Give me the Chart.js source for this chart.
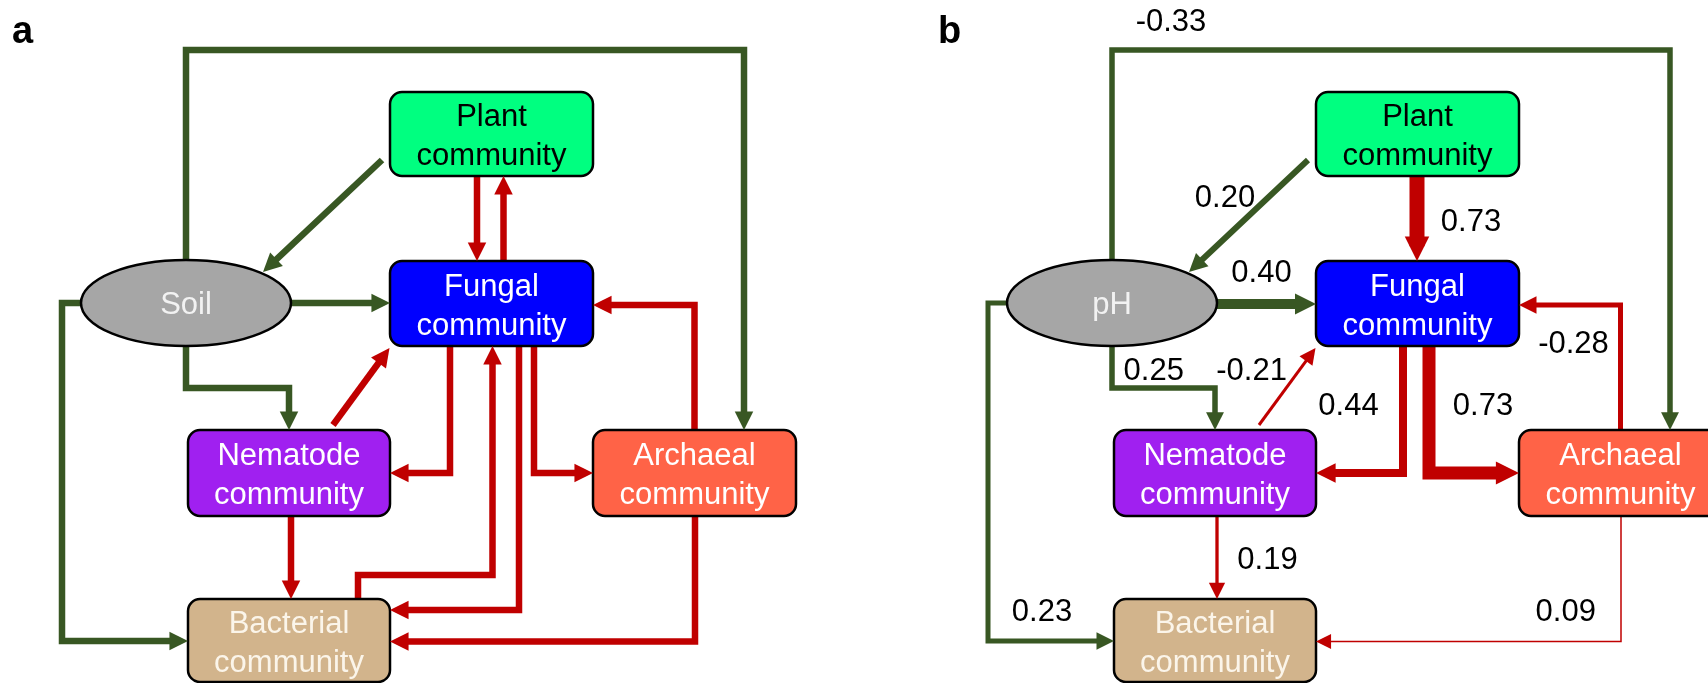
<!DOCTYPE html>
<html>
<head>
<meta charset="utf-8">
<script src="https://cdn.jsdelivr.net/npm/chart.js@4.4.1/dist/chart.umd.min.js"></script>
<style>
  html, body { margin: 0; padding: 0; background: #ffffff; }
  #wrap { width: 1708px; height: 683px; position: relative; }
</style>
</head>
<body>
<div id="wrap"><canvas id="sem"></canvas></div>
<script>
// ---- Model content ----------------------------------------------------
const nodeKeys = ['soil', 'plant', 'fungal', 'nematode', 'archaeal', 'bacterial'];
const nodeLabelsA = [['Soil'], ['Plant', 'community'], ['Fungal', 'community'],
                     ['Nematode', 'community'], ['Archaeal', 'community'], ['Bacterial', 'community']];
const nodeLabelsB = [['pH'], ['Plant', 'community'], ['Fungal', 'community'],
                     ['Nematode', 'community'], ['Archaeal', 'community'], ['Bacterial', 'community']];

// hypothesised paths (panel a)
const pathsA = [
  ['soil', 'archaeal'], ['plant', 'soil'], ['soil', 'fungal'], ['soil', 'nematode'],
  ['soil', 'bacterial'], ['plant', 'fungal'], ['fungal', 'plant'], ['nematode', 'fungal'],
  ['fungal', 'nematode'], ['fungal', 'archaeal'], ['archaeal', 'fungal'], ['bacterial', 'fungal'],
  ['fungal', 'bacterial'], ['archaeal', 'bacterial'], ['nematode', 'bacterial']
];
// retained paths and standardised coefficients (panel b)
const pathsB = [
  ['soil', 'archaeal'], ['plant', 'soil'], ['soil', 'fungal'], ['soil', 'nematode'],
  ['soil', 'bacterial'], ['plant', 'fungal'], ['nematode', 'fungal'], ['fungal', 'nematode'],
  ['fungal', 'archaeal'], ['archaeal', 'fungal'], ['archaeal', 'bacterial'], ['nematode', 'bacterial']
];
const coefficientsB = [-0.33, 0.20, 0.40, 0.25, 0.23, 0.73, -0.21, 0.44, 0.73, -0.28, 0.09, 0.19];

// ---- Layout (diagram units, one panel) ---------------------------------
const panelOffsets = [0, 926];
const nodeGeom = {
  soil:      { cx: 186,   cy: 303,   w: 210, h: 86, shape: 'ellipse', fill: '#A6A6A6', text: '#F2F2F2' },
  plant:     { cx: 491.5, cy: 134,   w: 203, h: 84, fill: '#00FF80', text: '#000000' },
  fungal:    { cx: 491.5, cy: 303.5, w: 203, h: 85, fill: '#0000FF', text: '#FFFFFF' },
  nematode:  { cx: 289,   cy: 473,   w: 202, h: 86, fill: '#A020F0', text: '#FFFFFF' },
  archaeal:  { cx: 694.5, cy: 473,   w: 203, h: 86, fill: '#FF6347', text: '#FFFFFF' },
  bacterial: { cx: 289,   cy: 640.5, w: 202, h: 83, fill: '#D2B48C', text: '#FBF5EA' }
};

const routesA = {
  'soil>archaeal':      [[186, 260], [186, 50], [744, 50], [744, 430]],
  'plant>soil':         [[382, 160], [263, 272]],
  'soil>fungal':        [[291, 303], [390, 303]],
  'soil>nematode':      [[186, 346], [186, 388], [289, 388], [289, 430]],
  'soil>bacterial':     [[81, 303], [62, 303], [62, 641], [188, 641]],
  'plant>fungal':       [[477, 176], [477, 261]],
  'fungal>plant':       [[503.5, 261], [503.5, 176]],
  'nematode>fungal':    [[333, 425], [389.5, 348]],
  'fungal>nematode':    [[450, 346], [450, 473], [390, 473]],
  'fungal>archaeal':    [[534, 346], [534, 473], [593, 473]],
  'archaeal>fungal':    [[694.5, 430], [694.5, 305], [593, 305]],
  'bacterial>fungal':   [[358, 599], [358, 575], [492.5, 575], [492.5, 346]],
  'fungal>bacterial':   [[519, 346], [519, 610], [390, 610]],
  'archaeal>bacterial': [[695, 516], [695, 641.5], [390, 641.5]],
  'nematode>bacterial': [[291, 516], [291, 599]]
};
const routesB = Object.assign({}, routesA, {
  'soil>fungal':      [[291, 304], [390, 304]],
  'plant>fungal':     [[491, 176], [491, 261]],
  'fungal>nematode':  [[477, 346], [477, 473], [390, 473]],
  'fungal>archaeal':  [[503, 346], [503, 473], [593, 473]]
});

// stroke widths of the fitted paths, in the order of pathsB
const strokeB = [5.5, 6, 10, 5.5, 5, 15, 3, 8, 13, 5, 1.5, 3.3];
const strokeA = 6.5;

// coefficient label anchors (panel b, diagram units)
const labelAnchorsB = {
  'soil>archaeal': [245, 20], 'plant>soil': [299, 196], 'plant>fungal': [545, 220],
  'soil>fungal': [335.5, 271], 'archaeal>fungal': [647.5, 342], 'soil>nematode': [227.7, 369],
  'nematode>fungal': [325.6, 369], 'fungal>nematode': [422.5, 404], 'fungal>archaeal': [557, 404],
  'nematode>bacterial': [341.5, 557.5], 'soil>bacterial': [116, 610], 'archaeal>bacterial': [639.7, 610]
};

const GREEN = '#385723';
const RED = '#C00000';
const FONT = "'Liberation Sans', Arial, sans-serif";

function headLen(w) { return 14 + 0.7 * w; }

// ---- Build one line dataset per path -----------------------------------
const arrows = [];
const datasets = [];
function addPanel(paths, routes, offset, widthOf) {
  paths.forEach((p, i) => {
    const key = p[0] + '>' + p[1];
    const pts = routes[key].map(q => ({ x: q[0] + offset, y: q[1] }));
    const w = widthOf(i);
    const col = (p[0] === 'soil' || p[1] === 'soil') ? GREEN : RED;
    const tip = pts[pts.length - 1];
    const prev = pts[pts.length - 2];
    const dx = tip.x - prev.x, dy = tip.y - prev.y;
    const len = Math.hypot(dx, dy);
    const ux = dx / len, uy = dy / len;
    const hl = headLen(w);
    const linePts = pts.slice(0, -1).concat([{ x: tip.x - ux * hl * 0.6, y: tip.y - uy * hl * 0.6 }]);
    datasets.push({
      data: linePts, showLine: true, borderColor: col, backgroundColor: col,
      borderWidth: w, pointRadius: 0, pointHoverRadius: 0, tension: 0, fill: false,
      borderCapStyle: 'butt', borderJoinStyle: 'miter', clip: false
    });
    arrows.push({ tip, prev, color: col, len: hl });
  });
}
addPanel(pathsA, routesA, panelOffsets[0], () => strokeA);
addPanel(pathsB, routesB, panelOffsets[1], i => strokeB[i]);

// ---- Nodes, arrowheads and text, drawn through the chart scales --------
const diagramPlugin = {
  id: 'semDiagram',
  afterDatasetsDraw(chart) {
    const ctx = chart.ctx;
    const sx = chart.scales.x, sy = chart.scales.y;
    const X = v => sx.getPixelForValue(v);
    const Y = v => sy.getPixelForValue(v);

    function roundRect(x0, y0, x1, y1, r) {
      ctx.beginPath();
      ctx.moveTo(x0 + r, y0);
      ctx.lineTo(x1 - r, y0);
      ctx.arcTo(x1, y0, x1, y0 + r, r);
      ctx.lineTo(x1, y1 - r);
      ctx.arcTo(x1, y1, x1 - r, y1, r);
      ctx.lineTo(x0 + r, y1);
      ctx.arcTo(x0, y1, x0, y1 - r, r);
      ctx.lineTo(x0, y0 + r);
      ctx.arcTo(x0, y0, x0 + r, y0, r);
      ctx.closePath();
    }

    ctx.save();
    // nodes
    panelOffsets.forEach((off, pi) => {
      const labels = pi === 0 ? nodeLabelsA : nodeLabelsB;
      nodeKeys.forEach((k, ni) => {
        const g = nodeGeom[k];
        const x0 = X(g.cx - g.w / 2 + off), x1 = X(g.cx + g.w / 2 + off);
        const y0 = Y(g.cy - g.h / 2), y1 = Y(g.cy + g.h / 2);
        if (g.shape === 'ellipse') {
          ctx.beginPath();
          ctx.ellipse((x0 + x1) / 2, (y0 + y1) / 2, (x1 - x0) / 2, (y1 - y0) / 2, 0, 0, Math.PI * 2);
        } else {
          roundRect(x0, y0, x1, y1, 12);
        }
        ctx.fillStyle = g.fill;
        ctx.fill();
        ctx.lineWidth = 2.5;
        ctx.strokeStyle = '#000000';
        ctx.stroke();

        ctx.fillStyle = g.text;
        ctx.font = '31px ' + FONT;
        ctx.textAlign = 'center';
        ctx.textBaseline = 'alphabetic';
        const cx = X(g.cx + off), cy = Y(g.cy);
        const lines = labels[ni];
        if (lines.length === 1) {
          ctx.fillText(lines[0], cx, cy + 11);
        } else {
          ctx.fillText(lines[0], cx, cy - 8);
          ctx.fillText(lines[1], cx, cy + 31);
        }
      });
    });

    // arrowheads
    arrows.forEach(a => {
      const tx = X(a.tip.x), ty = Y(a.tip.y);
      const px = X(a.prev.x), py = Y(a.prev.y);
      const d = Math.hypot(tx - px, ty - py);
      const ux = (tx - px) / d, uy = (ty - py) / d;
      const bx = tx - ux * a.len, by = ty - uy * a.len;
      const hw = a.len / 2;
      ctx.beginPath();
      ctx.moveTo(tx, ty);
      ctx.lineTo(bx - uy * hw, by + ux * hw);
      ctx.lineTo(bx + uy * hw, by - ux * hw);
      ctx.closePath();
      ctx.fillStyle = a.color;
      ctx.fill();
    });

    // path coefficients
    ctx.fillStyle = '#000000';
    ctx.font = '31px ' + FONT;
    ctx.textAlign = 'center';
    ctx.textBaseline = 'alphabetic';
    pathsB.forEach((p, i) => {
      const pos = labelAnchorsB[p[0] + '>' + p[1]];
      const v = coefficientsB[i].toFixed(2);
      ctx.fillText(v, X(pos[0] + panelOffsets[1]), Y(pos[1]) + 11);
    });

    // panel letters
    ctx.font = 'bold 38px ' + FONT;
    ctx.textAlign = 'left';
    ctx.fillText('a', X(12), Y(43));
    ctx.fillText('b', X(12 + panelOffsets[1]), Y(43));
    ctx.restore();
  }
};

new Chart(document.getElementById('sem').getContext('2d'), {
  type: 'scatter',
  data: { datasets },
  options: {
    responsive: true,
    maintainAspectRatio: false,
    animation: false,
    events: [],
    layout: { padding: 0, autoPadding: false },
    scales: {
      x: { type: 'linear', min: 0, max: 1708, display: false },
      y: { type: 'linear', min: 0, max: 683, reverse: true, display: false }
    },
    plugins: { legend: { display: false }, tooltip: { enabled: false }, title: { display: false } }
  },
  plugins: [diagramPlugin]
});
</script>
</body>
</html>
